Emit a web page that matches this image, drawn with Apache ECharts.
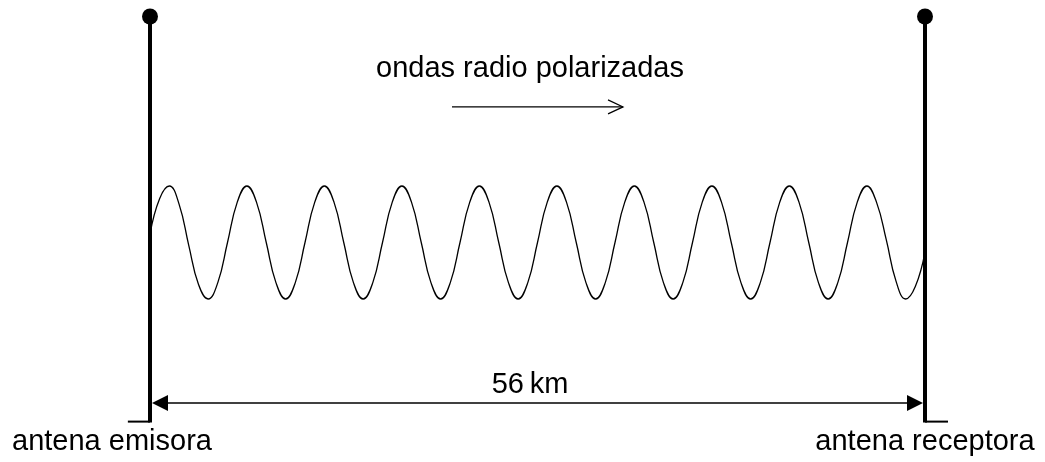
<!DOCTYPE html>
<html>
<head>
<meta charset="utf-8">
<script src="https://cdn.jsdelivr.net/npm/echarts@6/dist/echarts.min.js"></script>
<style>
  html, body { margin: 0; padding: 0; background: #fff; }
  #chart { width: 1045px; height: 462px; }
</style>
</head>
<body>
<div id="chart"></div>
<script>
// distance between the antennas, km
var distanceKm = 56;

// antennas: position (km), foot of the mast, top of the mast, end of ground stub (km)
var antennaX = [0, 56];
var antennaTop = 4;
var antennaBase = -3.17;
var stubEnd = [-1.6, 57.66];

// wave, sampled every 0.7 km (eighth of a cycle), amplitude units
var waveStep = 0.7;
var waveY = [
  0.15, 0.78, 1, 0.68, -0.05, -0.74, -1, -0.71,
  0, 0.71, 1, 0.71, 0, -0.71, -1, -0.71,
  0, 0.71, 1, 0.71, 0, -0.71, -1, -0.71,
  0, 0.71, 1, 0.71, 0, -0.71, -1, -0.71,
  0, 0.71, 1, 0.71, 0, -0.71, -1, -0.71,
  0, 0.71, 1, 0.71, 0, -0.71, -1, -0.71,
  0, 0.71, 1, 0.71, 0, -0.71, -1, -0.71,
  0, 0.71, 1, 0.71, 0, -0.71, -1, -0.71,
  0, 0.71, 1, 0.71, 0, -0.71, -1, -0.71,
  0, 0.71, 1, 0.71, 0.05, -0.68, -1, -0.78,
  -0.17
];

// arrows: [from, to, level]
var distanceArrow = [0, 56, -2.84];
var directionArrow = [21.82, 34.18, 2.4];

var labels = {
  wave: 'ondas radio polarizadas',
  distance: '56\u2009km',
  left: 'antena emisora',
  right: 'antena receptora'
};

var font = "'Liberation Sans', Arial, sans-serif";

var wavePoints = waveY.map(function (v, i) { return [i * waveStep, v]; });
var antennaRows = antennaX.map(function (x, i) { return [x, antennaBase, antennaTop, stubEnd[i]]; });

var chart = echarts.init(document.getElementById('chart'));

var option = {
  animation: false,
  backgroundColor: '#fff',
  grid: {left: 150, right: 120, top: 16.5, bottom: 21.75},
  xAxis: {type: 'value', min: 0, max: distanceKm, show: false},
  yAxis: {type: 'value', min: -3.5, max: 4, show: false},
  series: [
    {
      type: 'line',
      data: wavePoints,
      smooth: 0.45,
      showSymbol: false,
      lineStyle: {color: '#000', width: 1.3},
      clip: false,
      silent: true
    },
    {
      // masts with the ground stub and the ball on top
      type: 'custom',
      data: antennaRows,
      encode: {x: [0, 3], y: [1, 2]},
      clip: false,
      silent: true,
      renderItem: function (params, api) {
        var foot = api.coord([api.value(0), api.value(1)]);
        var top = api.coord([api.value(0), api.value(2)]);
        var stub = api.coord([api.value(3), api.value(1)]);
        return {
          type: 'group',
          children: [
            {type: 'line', shape: {x1: stub[0], y1: foot[1], x2: foot[0], y2: foot[1]},
             style: {stroke: '#000', lineWidth: 2}},
            {type: 'line', shape: {x1: foot[0], y1: foot[1] + 1, x2: top[0], y2: top[1]},
             style: {stroke: '#000', lineWidth: 4}},
            {type: 'circle', shape: {cx: top[0], cy: top[1], r: 8},
             style: {fill: '#000'}}
          ]
        };
      }
    },
    {
      type: 'custom',
      data: [distanceArrow],
      encode: {x: [0, 1], y: 2},
      clip: false,
      silent: true,
      renderItem: function (params, api) {
        var a = api.coord([api.value(0), api.value(2)]);
        var b = api.coord([api.value(1), api.value(2)]);
        var x0 = a[0] + 2, x1 = b[0] - 2, y = a[1];
        return {
          type: 'group',
          children: [
            {type: 'line', shape: {x1: x0 + 10, y1: y, x2: x1 - 10, y2: y},
             style: {stroke: '#000', lineWidth: 1.5}},
            {type: 'polygon', shape: {points: [[x0, y], [x0 + 16, y - 8], [x0 + 16, y + 8]]},
             style: {fill: '#000'}},
            {type: 'polygon', shape: {points: [[x1, y], [x1 - 16, y - 8], [x1 - 16, y + 8]]},
             style: {fill: '#000'}}
          ]
        };
      }
    },
    {
      type: 'custom',
      data: [directionArrow],
      encode: {x: [0, 1], y: 2},
      clip: false,
      silent: true,
      renderItem: function (params, api) {
        var a = api.coord([api.value(0), api.value(2)]);
        var b = api.coord([api.value(1), api.value(2)]);
        var y = a[1];
        return {
          type: 'group',
          children: [
            {type: 'line', shape: {x1: a[0], y1: y, x2: b[0], y2: y},
             style: {stroke: '#000', lineWidth: 1.2}},
            {type: 'polyline', shape: {points: [[b[0] - 15, y - 7], [b[0], y], [b[0] - 15, y + 7]]},
             style: {stroke: '#000', lineWidth: 1.2, fill: null}}
          ]
        };
      }
    }
  ],
  graphic: [
    {type: 'text', x: 530, y: 69, silent: true,
     style: {text: labels.wave, font: '29px ' + font, fill: '#000', align: 'center', verticalAlign: 'middle'}},
    {type: 'text', x: 530, y: 385, silent: true,
     style: {text: labels.distance, font: '29px ' + font, fill: '#000', align: 'center', verticalAlign: 'middle'}},
    {type: 'text', x: 112, y: 442, silent: true,
     style: {text: labels.left, font: '29px ' + font, fill: '#000', align: 'center', verticalAlign: 'middle'}},
    {type: 'text', x: 925, y: 442, silent: true,
     style: {text: labels.right, font: '29px ' + font, fill: '#000', align: 'center', verticalAlign: 'middle'}}
  ]
};

chart.setOption(option);
</script>
</body>
</html>
